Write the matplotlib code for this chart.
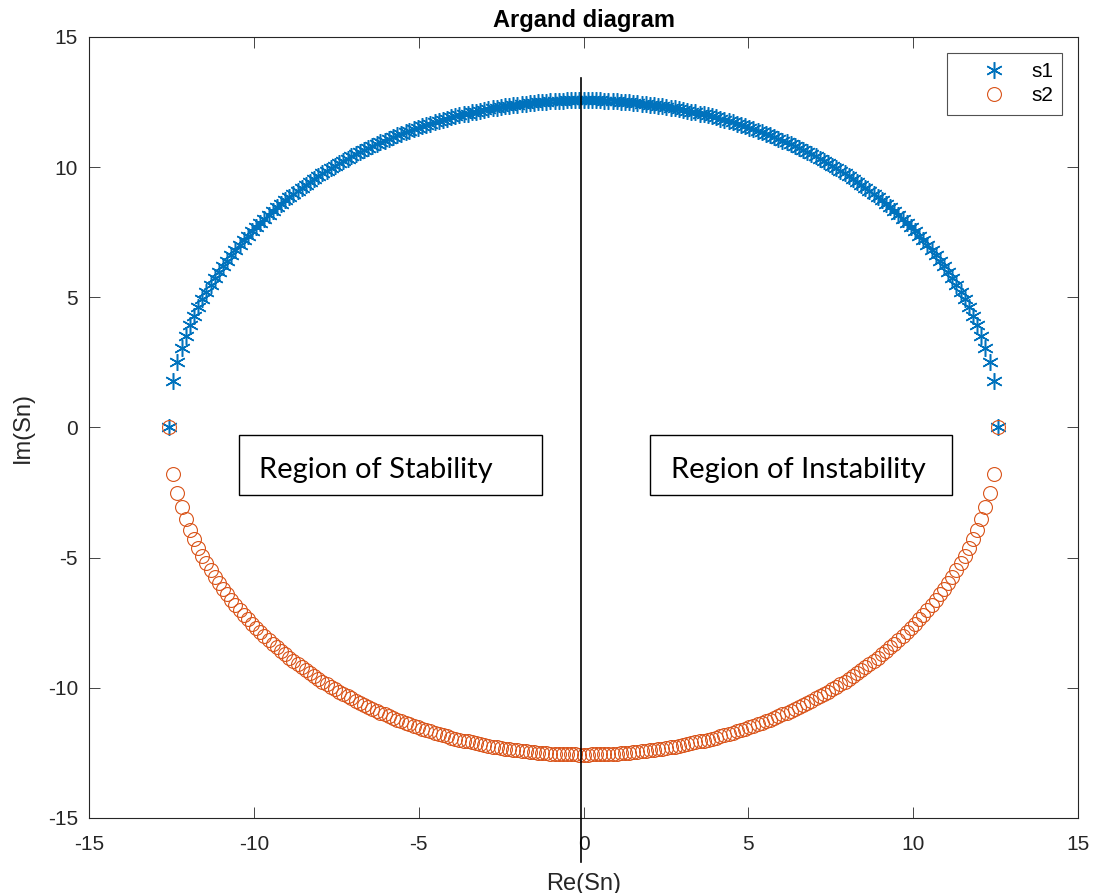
import matplotlib
matplotlib.use("Agg")
import matplotlib.pyplot as plt
from matplotlib.patches import Rectangle

# Re(Sn) for each root
re_sn = [
    -12.57, -12.44, -12.32, -12.19, -12.06, -11.94, -11.81, -11.69, -11.56, -11.44,
    -11.31, -11.18, -11.06, -10.93, -10.81, -10.68, -10.56, -10.43, -10.30, -10.18,
    -10.05, -9.93, -9.80, -9.68, -9.55, -9.42, -9.30, -9.17, -9.05, -8.92,
    -8.80, -8.67, -8.55, -8.42, -8.29, -8.17, -8.04, -7.92, -7.79, -7.67,
    -7.54, -7.41, -7.29, -7.16, -7.04, -6.91, -6.79, -6.66, -6.53, -6.41,
    -6.28, -6.16, -6.03, -5.91, -5.78, -5.65, -5.53, -5.40, -5.28, -5.15,
    -5.03, -4.90, -4.78, -4.65, -4.52, -4.40, -4.27, -4.15, -4.02, -3.90,
    -3.77, -3.64, -3.52, -3.39, -3.27, -3.14, -3.02, -2.89, -2.76, -2.64,
    -2.51, -2.39, -2.26, -2.14, -2.01, -1.88, -1.76, -1.63, -1.51, -1.38,
    -1.26, -1.13, -1.01, -0.88, -0.75, -0.63, -0.50, -0.38, -0.25, -0.13,
    0.00,
    0.13, 0.25, 0.38, 0.50, 0.63, 0.75, 0.88, 1.01, 1.13, 1.26,
    1.38, 1.51, 1.63, 1.76, 1.88, 2.01, 2.14, 2.26, 2.39, 2.51,
    2.64, 2.76, 2.89, 3.02, 3.14, 3.27, 3.39, 3.52, 3.64, 3.77,
    3.90, 4.02, 4.15, 4.27, 4.40, 4.52, 4.65, 4.78, 4.90, 5.03,
    5.15, 5.28, 5.40, 5.53, 5.65, 5.78, 5.91, 6.03, 6.16, 6.28,
    6.41, 6.53, 6.66, 6.79, 6.91, 7.04, 7.16, 7.29, 7.41, 7.54,
    7.67, 7.79, 7.92, 8.04, 8.17, 8.29, 8.42, 8.55, 8.67, 8.80,
    8.92, 9.05, 9.17, 9.30, 9.42, 9.55, 9.68, 9.80, 9.93, 10.05,
    10.18, 10.30, 10.43, 10.56, 10.68, 10.81, 10.93, 11.06, 11.18, 11.31,
    11.44, 11.56, 11.69, 11.81, 11.94, 12.06, 12.19, 12.32, 12.44, 12.57,
]

# Im(Sn) of s1 (upper arc); s2 is its complex conjugate
im_s1 = [
    0.00, 1.77, 2.50, 3.06, 3.52, 3.92, 4.29, 4.62, 4.92, 5.21,
    5.48, 5.73, 5.97, 6.20, 6.41, 6.62, 6.82, 7.01, 7.19, 7.37,
    7.54, 7.70, 7.86, 8.02, 8.17, 8.31, 8.45, 8.59, 8.72, 8.85,
    8.97, 9.10, 9.21, 9.33, 9.44, 9.55, 9.66, 9.76, 9.86, 9.96,
    10.05, 10.15, 10.24, 10.32, 10.41, 10.49, 10.58, 10.66, 10.73, 10.81,
    10.88, 10.95, 11.02, 11.09, 11.16, 11.22, 11.28, 11.35, 11.40, 11.46,
    11.52, 11.57, 11.62, 11.67, 11.72, 11.77, 11.82, 11.86, 11.91, 11.95,
    11.99, 12.03, 12.06, 12.10, 12.13, 12.17, 12.20, 12.23, 12.26, 12.29,
    12.31, 12.34, 12.36, 12.38, 12.40, 12.42, 12.44, 12.46, 12.48, 12.49,
    12.50, 12.51, 12.53, 12.54, 12.54, 12.55, 12.56, 12.56, 12.56, 12.57,
    12.57,
    12.57, 12.56, 12.56, 12.56, 12.55, 12.54, 12.54, 12.53, 12.51, 12.50,
    12.49, 12.48, 12.46, 12.44, 12.42, 12.40, 12.38, 12.36, 12.34, 12.31,
    12.29, 12.26, 12.23, 12.20, 12.17, 12.13, 12.10, 12.06, 12.03, 11.99,
    11.95, 11.91, 11.86, 11.82, 11.77, 11.72, 11.67, 11.62, 11.57, 11.52,
    11.46, 11.40, 11.35, 11.28, 11.22, 11.16, 11.09, 11.02, 10.95, 10.88,
    10.81, 10.73, 10.66, 10.58, 10.49, 10.41, 10.32, 10.24, 10.15, 10.05,
    9.96, 9.86, 9.76, 9.66, 9.55, 9.44, 9.33, 9.21, 9.10, 8.97,
    8.85, 8.72, 8.59, 8.45, 8.31, 8.17, 8.02, 7.86, 7.70, 7.54,
    7.37, 7.19, 7.01, 6.82, 6.62, 6.41, 6.20, 5.97, 5.73, 5.48,
    5.21, 4.92, 4.62, 4.29, 3.92, 3.52, 3.06, 2.50, 1.77, 0.00,
]
im_s2 = [-v for v in im_s1]

ticks = [-15, -10, -5, 0, 5, 10, 15]

plt.rcParams['font.family'] = ['Liberation Sans', 'DejaVu Sans']
plt.rcParams['axes.unicode_minus'] = False

fig = plt.figure(figsize=(10.99, 8.93), dpi=100)
ax = fig.add_axes([0.081, 0.084, 0.900, 0.8746])

ax.plot(re_sn, im_s1, linestyle='none', marker=(6, 2, 0), markersize=12,
        markeredgewidth=1.1, color='#0072BD', label='s1')
ax.plot(re_sn, im_s2, linestyle='none', marker='o', markersize=10,
        markerfacecolor='none', markeredgewidth=0.8, color='#D95319', label='s2')

ax.set_xlim(-15, 15)
ax.set_ylim(-15, 15)
ax.set_xticks(ticks)
ax.set_yticks(ticks)
ax.tick_params(direction='in', length=8, width=0.6, top=True, right=True,
               labelsize=15, colors='#262626')
ax.tick_params(axis='x', pad=12)
ax.tick_params(axis='y', pad=8)
for s in ax.spines.values():
    s.set_linewidth(0.8)
    s.set_color('#262626')

ax.set_title('Argand diagram', fontsize=17, fontweight='bold', pad=7)
ax.set_xlabel('Re(Sn)', fontsize=17, color='#262626', labelpad=14)
ax.set_ylabel('Im(Sn)', fontsize=17, color='#262626', labelpad=10)

leg = ax.legend(loc='upper right', fontsize=15, frameon=True, fancybox=False,
                edgecolor='#262626', borderaxespad=0.75, handletextpad=0.0,
                handlelength=3.6, borderpad=0.45, labelspacing=0.25)
leg.get_frame().set_linewidth(0.8)

# region annotations and the imaginary axis line
for x0, x1, txt in [(-10.45, -1.26, 'Region of Stability'),
                    (2.02, 11.18, 'Region of Instability')]:
    ax.add_patch(Rectangle((x0, -2.59), x1 - x0, 2.30, facecolor='white',
                           edgecolor='black', linewidth=1.0, zorder=4))
    ax.text(x0 + 0.62, -1.62, txt, ha='left', va='center', fontsize=21,
            family=['Lato', 'DejaVu Sans'], zorder=5)

ax.plot([-0.08, -0.08], [13.43, -16.7], color='black', linewidth=1.2,
        clip_on=False, zorder=6)

fig.savefig('out.png', dpi=100)
